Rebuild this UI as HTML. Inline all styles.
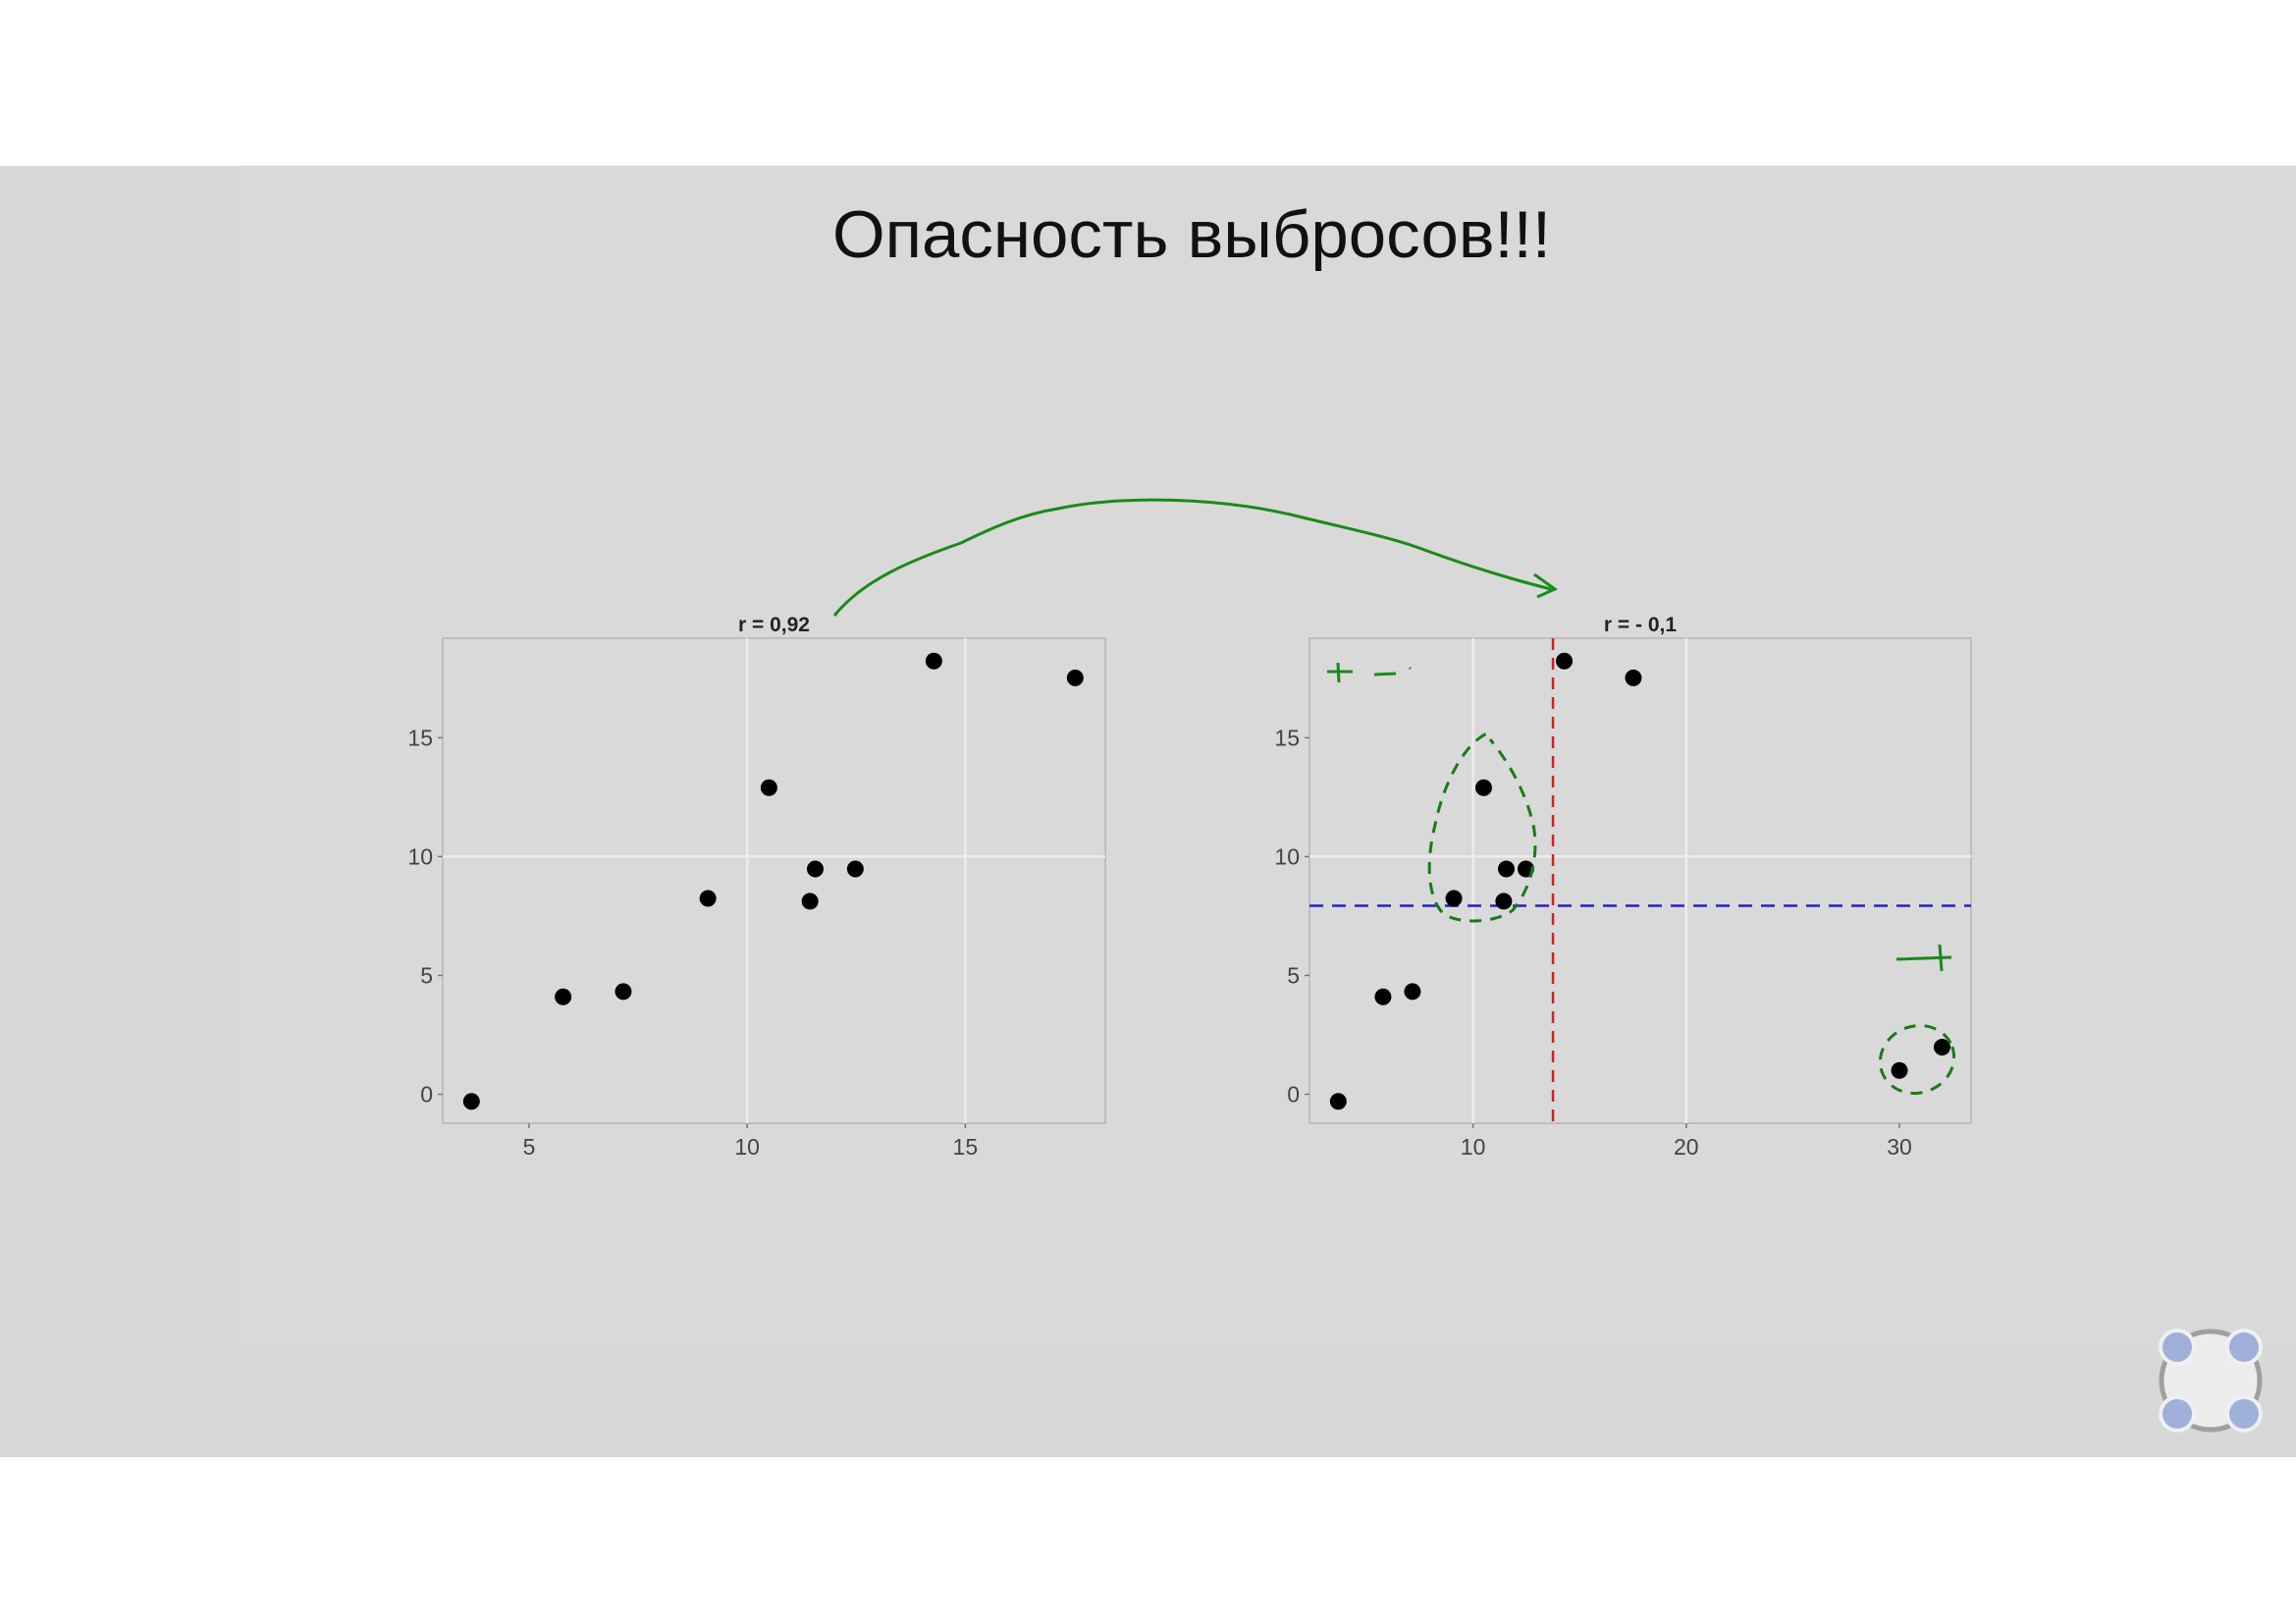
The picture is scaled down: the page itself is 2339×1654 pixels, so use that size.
<!DOCTYPE html>
<html><head><meta charset="utf-8"><style>
html,body{margin:0;padding:0;background:#fff;}
svg{display:block;}
</style></head><body>
<svg id="s" width="2339" height="1654" viewBox="0 0 2339 1654" xmlns="http://www.w3.org/2000/svg" font-family="Liberation Sans, sans-serif">
<rect x="0" y="169" width="2339" height="1315" fill="#d8d8d8"/>
<rect x="246" y="169" width="2093" height="1200" fill="#d9d9d9" stroke="#dcdcdc"/>
<text x="848" y="262" font-size="68" textLength="732" lengthAdjust="spacingAndGlyphs" fill="#111" font-family="Liberation Sans, DejaVu Sans, sans-serif">Опасность выбросов!!!</text>
<g id="left"></g>
<g id="right"></g>
<path d="M850,627 C880,590 930,570 979,553 C1010,538 1040,524 1078,518 C1140,505 1240,505 1327,527 C1380,540 1420,548 1451,560 C1500,578 1540,590 1580,600" fill="none" stroke="#1a8a1a" stroke-width="3"/>
<path d="M1563,585 L1584,600 L1566,608" fill="none" stroke="#1a8a1a" stroke-width="3"/>
<g stroke="#1a8a1a" stroke-width="3" fill="none">
<path d="M1352,684 L1378,684 M1363,675 L1364,695 M1400,687 L1422,686 M1436,680 L1437,681"/>
</g>
<g stroke="#1a8a1a" stroke-width="3" fill="none">
<path d="M1932,977 L1988,975 M1976,962 L1978,989"/>
</g>
<path d="M1513.5,747.5 C1490,760 1470,800 1462,840 C1452,880 1455,915 1470,930 C1485,942 1525,940 1541,927 C1560,905 1568,870 1562,840 C1555,810 1540,780 1518,753" fill="none" stroke="#1a7a1a" stroke-width="3" stroke-dasharray="12,9"/>
<ellipse cx="1953" cy="1079" rx="38" ry="34" transform="rotate(-20 1953 1079)" fill="none" stroke="#1a7a1a" stroke-width="3" stroke-dasharray="12,9"/>
<g>
<circle cx="2252" cy="1406" r="50" fill="#ececec" stroke="#a0a0a0" stroke-width="5"/>
<circle cx="2218" cy="1372" r="19" fill="#eef0f4"/><circle cx="2218" cy="1372" r="15" fill="#9fb1d8"/>
<circle cx="2286" cy="1372" r="19" fill="#eef0f4"/><circle cx="2286" cy="1372" r="15" fill="#9fb1d8"/>
<circle cx="2218" cy="1440" r="19" fill="#eef0f4"/><circle cx="2218" cy="1440" r="15" fill="#9fb1d8"/>
<circle cx="2286" cy="1440" r="19" fill="#eef0f4"/><circle cx="2286" cy="1440" r="15" fill="#9fb1d8"/>
</g>
</svg>
<script>
const baseX = [3.68, 5.78, 7.16, 9.1, 10.5, 11.44, 11.56, 12.48, 14.28, 17.52];
const baseY = [-0.3, 4.1, 4.32, 8.24, 12.9, 8.12, 9.48, 9.48, 18.23, 17.52];
const outlierX = [30.0, 32.0];
const outlierY = [1.0, 1.98];
const leftXTicks = [5, 10, 15];
const rightXTicks = [10, 20, 30];
const yTicks = [0, 5, 10, 15];
const meanX = 13.75;
const meanY = 7.93;
const leftTitle = "r = 0,92";
const rightTitle = "r = - 0,1";
const NS = "http://www.w3.org/2000/svg";
function mk(parent, tag, attrs, text) {
  const e = document.createElementNS(NS, tag);
  for (const k in attrs) e.setAttribute(k, attrs[k]);
  if (text !== undefined) e.textContent = text;
  parent.appendChild(e);
  return e;
}
function chart(g, px0, px1, xmin, xmax, xs, ys, xticks, gridX, title) {
  const py0 = 650, py1 = 1144, ymin = -1.22, ymax = 19.19;
  const sx = v => px0 + (v - xmin) / (xmax - xmin) * (px1 - px0);
  const sy = v => py1 - (v - ymin) / (ymax - ymin) * (py1 - py0);
  const panel = mk(g, "rect", {x: px0, y: py0, width: px1 - px0, height: py1 - py0, fill: "#d9d9d9", stroke: "#b5b5b5", "stroke-width": 1.5});
  
  
  gridX.forEach(v => {
    const l = mk(g, "line", {x1: sx(v), x2: sx(v), y1: py0, y2: py1, stroke: "#ececec", "stroke-width": 2.5});
    
    
  });
  const h = mk(g, "line", {x1: px0, x2: px1, y1: sy(10), y2: sy(10), stroke: "#ececec", "stroke-width": 2.5});
  
  
  xticks.forEach(v => {
    const t = mk(g, "line", {x1: sx(v), x2: sx(v), y1: py1, y2: py1 + 5, stroke: "#777", "stroke-width": 1.5});
    
    
    const lb = mk(g, "text", {x: sx(v), y: 1176, "text-anchor": "middle", "font-size": 23, fill: "#444"}, String(v));
    
    
  });
  yTicks.forEach(v => {
    const t = mk(g, "line", {x1: px0 - 5, x2: px0, y1: sy(v), y2: sy(v), stroke: "#777", "stroke-width": 1.5});
    
    
    const lb = mk(g, "text", {x: px0 - 10, y: sy(v) + 8, "text-anchor": "end", "font-size": 23, fill: "#444"}, String(v));
    
    
  });
  const tt = mk(g, "text", {x: (px0 + px1) / 2, y: 643, "text-anchor": "middle", "font-size": 21, "font-weight": "bold", fill: "#222"}, title);
  
  
  return {sx, sy, px0, px1, py0, py1, g};
}
function points(c, xs, ys) {
  xs.forEach((v, i) => {
    const p = mk(c.g, "circle", {cx: c.sx(v), cy: c.sy(ys[i]), r: 8.5, fill: "#000"});
    
    
  });
}
const L = chart(document.getElementById("left"), 451, 1126, 3.02, 18.21, baseX, baseY, leftXTicks, [10, 15], leftTitle);
points(L, baseX, baseY);
const R = chart(document.getElementById("right"), 1334, 2008, 2.33, 33.36, null, null, rightXTicks, [10, 20], rightTitle);
const vl = mk(R.g, "line", {x1: R.sx(meanX), x2: R.sx(meanX), y1: R.py0, y2: R.py1, stroke: "#d42020", "stroke-width": 2.5, "stroke-dasharray": "12,8"});


const hl = mk(R.g, "line", {x1: R.px0, x2: R.px1, y1: R.sy(meanY), y2: R.sy(meanY), stroke: "#2222cc", "stroke-width": 2.5, "stroke-dasharray": "14,9"});


points(R, baseX.concat(outlierX), baseY.concat(outlierY));
</script>
</body></html>
